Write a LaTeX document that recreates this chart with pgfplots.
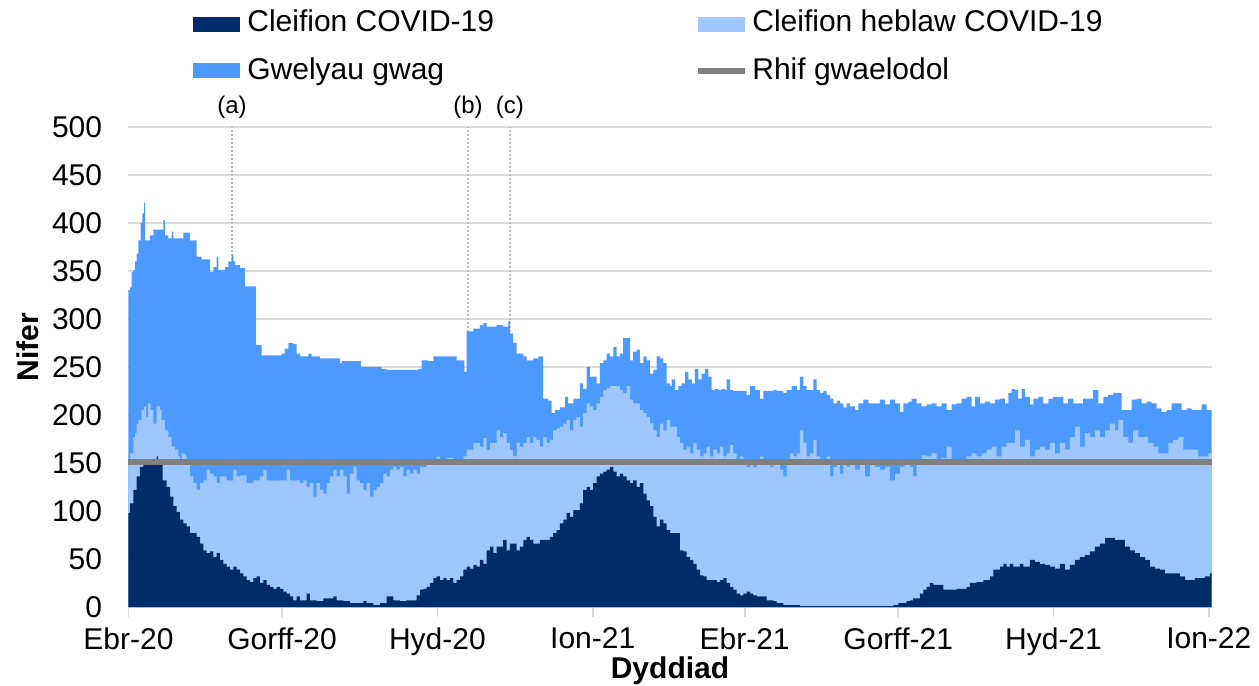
\documentclass[border=0pt]{standalone}
\usepackage{pgfplots}
\pgfplotsset{compat=1.18}
\usepackage{fontspec}
\setmainfont{Liberation Sans}
\definecolor{navyc}{RGB}{0,45,106}
\definecolor{midb}{RGB}{77,154,255}
\definecolor{lightb}{RGB}{158,198,255}
\definecolor{basegray}{RGB}{128,128,128}
\definecolor{gridgray}{RGB}{217,217,217}
\definecolor{dotgray}{RGB}{185,185,185}
\newcommand{\fs}{\fontsize{15bp}{18bp}\selectfont}
\begin{document}
\begin{tikzpicture}
\begin{axis}[
  at={(0,0)}, anchor=south west, scale only axis,
  width=541.5bp, height=240bp,
  xmin=0, xmax=641.6, ymin=0, ymax=500,
  clip=false,
  axis x line*=bottom, axis y line*=left,
  y axis line style={draw=none},
  x axis line style={draw=gridgray, line width=0.9bp},
  ytick={0,50,...,500},
  ymajorgrids, grid style={draw=gridgray, line width=0.75bp},
  ytick style={draw=none},
  xtick={0,91,183,275,365,456,548,640},
  xticklabels={Ebr-20,Gorff-20,Hyd-20,Ion-21,Ebr-21,Gorff-21,Hyd-21,Ion-22},
  xtick style={draw=gridgray, line width=0.9bp},
  tick align=outside, major tick length=5bp,
  /pgf/number format/assume math mode=true,
  tick label style={font=\fs, inner sep=0pt},
  yticklabel style={xshift=-8bp},
  xticklabel style={yshift=-5bp, anchor=north},
]
% event lines
\addplot[dotgray, line width=1bp, densely dotted] coordinates {(61.3,0) (61.3,500)};
\addplot[dotgray, line width=1bp, densely dotted] coordinates {(201.1,0) (201.1,500)};
\addplot[dotgray, line width=1bp, densely dotted] coordinates {(226,0) (226,500)};
% total (top of empty beds)
\addplot[const plot, fill=midb, draw=none] coordinates {
(0,330) (0.9,333) (1.9,349) (2.9,351) (3.9,360) (4.8,368) (5.8,382) (7.2,400) (8.2,410) (9.2,421) (9.8,382) (12.7,387) (14.7,393) (20.6,403) (21.6,387) (23.6,384) (25.6,391) (26.6,384) (32.5,390) (36.4,382) (40.4,365) (43.3,362) (48.3,349) (50.3,354) (52.2,365) (53.2,351) (57.2,354) (59.1,360) (61.1,367) (62.1,360) (63.1,356) (66.1,353) (69.0,334) (75.5,273) (78.9,262) (90.7,264) (92.7,269) (94.7,275) (97.6,274) (99.6,264) (101.6,261) (106.5,264) (108.5,261) (113.4,259) (125.3,254) (126.3,256) (137.7,250) (150,248) (152.9,247) (171.7,248) (173.7,257) (177.6,256) (180.6,261) (194.4,257) (199,245) (200.3,287) (204.3,290) (208.2,294) (210.2,296) (212.2,292) (214.1,292) (218.1,294) (222,292) (225,298) (226,285) (227.9,275) (229.9,264) (233.9,261) (235.8,257) (239.8,259) (242.8,261) (245.7,217) (248.7,215) (250.7,202) (252.6,205) (255.6,208) (258.6,219) (260.5,212) (263.5,217) (267.4,233) (269.4,227) (271.4,250) (273.4,240) (277.3,233) (279.3,254) (281.3,257) (283.2,264) (285.2,261) (287.2,271) (289.2,261) (291.1,264) (293.1,280) (295.1,280) (297.1,257) (299,266) (301,268) (303,254) (305,261) (306.9,257) (308.9,243) (310.9,247) (312.9,261) (314.8,259) (316.8,254) (318.8,233) (320.8,230) (321.8,237) (323.8,226) (325.8,230) (327.7,233) (329.7,245) (331.7,237) (333.7,233) (335.6,248) (337.6,237) (339.6,243) (341.6,248) (343.5,240) (345.5,226) (347.5,227) (349.5,226) (351.4,227) (353.4,226) (354.4,237) (356.4,226) (358.3,225) (366.2,221) (368.2,230) (371.2,226) (374.1,217) (376.1,225) (382,226) (384,225) (388,223) (389.9,226) (392.9,230) (395.9,226) (397.8,240) (399.8,230) (401.8,226) (405.7,237) (407.7,226) (409.7,223) (411.7,225) (413.6,221) (415.6,217) (417.6,212) (419.6,215) (421.5,212) (423.5,208) (425.5,212) (427.4,209) (430.4,205) (432.4,212) (435.3,216) (438.3,212) (445.2,216) (448.2,211) (451.1,216) (454.1,212) (457.1,203) (459,212) (462,214) (464,217) (466.9,212) (469.9,209) (472.8,211) (475.8,212) (478.8,209) (481.7,212) (484.7,205) (487.7,211) (490.6,212) (493.6,217) (496.5,219) (499.5,209) (501.5,219) (504.4,212) (507.4,214) (510.4,212) (513.3,216) (516.3,217) (519.2,212) (521.2,223) (523.2,227) (525.2,226) (527.1,217) (529.1,227) (531.1,219) (534,211) (536,217) (539,219) (541.9,212) (544.9,217) (547.8,219) (553.8,212) (556.7,217) (559.7,212) (565.6,217) (571.5,226) (574.5,212) (577.5,219) (580.4,221) (583.4,223) (588.3,205) (591.3,205) (594.3,216) (597.2,217) (600.2,212) (603.1,214) (606.1,212) (609.1,207) (612,203) (615,205) (617.9,212) (623.9,205) (626.8,207) (629.8,205) (635.7,211) (638.7,205) (641.6,205)
} \closedcycle;
% covid + non-covid
\addplot[const plot, fill=lightb, draw=none] coordinates {
(0,150) (0.9,160) (2.9,177) (3.9,181) (4.8,191) (5.8,195) (7.8,205) (9.2,209) (10.4,198) (11.7,212) (13.1,205) (14.7,191) (16.7,209) (18.7,205) (19.6,195) (21.6,184) (23.6,177) (25.6,167) (27.5,164) (29.5,157) (30.5,153) (31.5,160) (33.5,158) (34.5,153) (36.4,136) (38.4,129) (40.4,122) (42.4,129) (44.3,132) (46.3,143) (48.3,139) (50.3,136) (52.2,129) (54.2,136) (58.2,132) (62.1,143) (64.1,136) (66.1,137) (70,129) (74,132) (77.9,136) (79.9,143) (81.9,132) (93.7,143) (95.7,132) (99.6,132) (101.6,129) (103.6,132) (105.5,125) (107.5,129) (109.5,115) (111.5,129) (113.4,122) (115.4,118) (117.4,129) (119.4,136) (121.3,143) (123.3,136) (125.3,143) (127.3,136) (129.2,118) (131.2,139) (133.2,146) (135.2,132) (137.1,129) (139.1,122) (141.1,129) (143.1,115) (145,122) (147,125) (149,129) (151,139) (152.9,136) (154.9,143) (156.9,146) (158.9,143) (160.8,146) (162.8,136) (164.8,143) (166.8,139) (168.7,143) (170.7,139) (172.7,146) (176.6,148) (180.6,150) (182.6,157) (184.5,153) (188.5,155) (192.4,150) (196.4,150) (198.4,157) (200.3,164) (204.3,171) (208.2,167) (210.2,176) (212.2,164) (214.2,171) (216.1,171) (218.1,184) (220,177) (222,181) (224,171) (226,164) (227.9,157) (229.9,171) (231.9,167) (233.9,171) (235.8,177) (237.8,171) (239.8,177) (241.8,174) (243.7,167) (245.7,177) (247.7,171) (249.7,174) (251.6,184) (253.6,186) (255.6,188) (257.6,191) (259.5,195) (261.5,184) (263.5,195) (265.5,198) (267.4,188) (269.4,202) (271.4,212) (273.4,209) (275.3,205) (277.3,212) (279.3,219) (281.3,226) (283.2,228) (285.2,230) (289.2,230) (291.1,226) (293.1,223) (295.1,230) (297.1,216) (299,212) (301,212) (303,205) (305,202) (306.9,198) (308.9,191) (310.9,184) (312.9,177) (314.8,191) (316.8,184) (318.8,195) (320.8,188) (322.8,188) (324.8,177) (326.7,171) (328.7,164) (330.7,167) (332.7,160) (334.6,171) (336.6,164) (338.6,157) (340.6,160) (342.5,167) (344.5,157) (346.5,164) (348.5,160) (350.4,167) (352.4,157) (354.4,160) (356.4,169) (358.3,160) (360.3,153) (362.3,157) (364.3,150) (366.2,146) (368.2,150) (370.2,146) (372.2,150) (374.1,157) (376.1,153) (378.1,150) (380.1,146) (382,153) (384,150) (386,143) (388,136) (389.9,150) (391.9,160) (393.9,157) (395.9,160) (397.8,184) (399.8,171) (401.8,157) (403.8,160) (405.7,174) (407.7,157) (409.7,150) (411.7,153) (413.6,157) (415.6,136) (417.6,146) (419.6,150) (421.5,139) (423.5,150) (425.5,146) (427.4,150) (430.4,143) (433.3,153) (436.3,136) (439.3,153) (442.2,146) (445.2,143) (448.2,146) (451.1,132) (454.1,139) (457.1,146) (460,150) (463,146) (464.9,136) (466.9,150) (469.9,158) (472.8,157) (475.8,160) (478.8,153) (481.7,155) (484.7,167) (487.7,148) (490.6,153) (493.6,150) (496.5,157) (499.5,160) (502.5,157) (505.4,160) (508.4,164) (511.4,167) (514.3,157) (517.3,167) (520.2,171) (523.2,171) (525.2,184) (528.1,167) (531.1,174) (534,157) (537,164) (539.9,167) (542.9,164) (545.9,171) (548.8,160) (551.8,171) (554.8,164) (557.7,177) (560.7,188) (563.6,167) (566.6,181) (569.6,177) (572.5,184) (575.5,177) (578.5,184) (581.4,191) (584.4,184) (586.4,195) (589.3,177) (592.3,171) (595.2,184) (598.2,177) (601.2,177) (604.1,171) (607.1,167) (610.1,160) (613,160) (616,171) (618.9,174) (621.9,177) (624.9,164) (627.8,164) (630.8,164) (633.7,157) (636.7,157) (639.7,160) (641.6,157)
} \closedcycle;
% covid
\addplot[const plot, fill=navyc, draw=none] coordinates {
(0,98) (0.9,108) (2.9,122) (4.8,136) (6.8,146) (8.8,148) (10.8,148) (14.7,150) (16.7,157) (17.5,148) (20.2,132) (22.6,125) (24.6,115) (26.6,105) (28.5,99) (30.5,91) (32.5,87) (34.5,84) (36.4,77) (38.4,77) (40.4,73) (42.4,66) (44.3,59) (46.3,56) (48.3,58) (50.3,52) (52.2,56) (54.2,49) (56.2,45) (58.2,42) (60.1,39) (62.1,42) (64.1,39) (66.1,35) (68,32) (70,28) (72,26) (74,30) (75.9,32) (77.9,25) (79.9,28) (81.9,23) (83.8,21) (85.8,19) (87.8,21) (89.8,19) (91.7,16) (93.7,14) (95.7,11) (97.6,7) (99.6,11) (101.6,7) (105.5,14) (107.5,7) (111.5,6) (115.4,9) (121.3,11) (123.3,7) (127.3,6) (131.2,4) (139.1,6) (141.1,4) (145,2) (149,4) (152.9,11) (156.9,7) (160.8,6) (164.8,7) (170.7,12) (172.7,18) (174.7,19) (176.6,21) (178.6,25) (180.6,30) (182.6,32) (184.5,28) (186.5,30) (188.5,28) (190.5,30) (192.4,25) (194.4,28) (196.4,32) (198.4,39) (200.3,42) (202.3,40) (204.3,44) (206.3,42) (208.2,49) (210.2,45) (212.2,59) (214.2,63) (216.1,56) (218.1,63) (222,70) (224,59) (226,66) (229.9,59) (231.9,63) (233.9,70) (235.8,73) (237.8,70) (239.8,66) (243.7,70) (249.7,73) (251.6,77) (253.6,80) (255.6,87) (257.6,91) (259.5,98) (261.5,94) (263.5,101) (267.4,108) (269.4,122) (271.4,125) (273.4,122) (275.3,129) (277.3,136) (279.3,139) (281.3,141) (283.2,143) (285.2,146) (287.2,141) (289.2,136) (291.1,139) (293.1,136) (295.1,132) (297.1,129) (299,132) (301,125) (303,129) (305,118) (306.9,111) (308.9,105) (310.9,94) (312.9,84) (314.8,91) (316.8,87) (318.8,80) (320.8,77) (324.8,77) (326.7,59) (328.7,58) (330.7,52) (332.7,49) (334.6,45) (336.6,39) (338.6,33) (340.6,32) (342.5,28) (348.5,26) (350.4,28) (352.4,30) (354.4,25) (356.4,21) (358.3,18) (360.3,14) (362.3,12) (364.3,14) (366.2,16) (368.2,14) (370.2,12) (372.2,11) (376.1,11) (378.1,7) (382,6) (384,4) (388,2) (397.8,1) (452,1) (453.1,2) (456.1,4) (461,6) (463,7) (464.9,9) (468.9,14) (470.9,18) (472.8,21) (474.8,25) (476.8,23) (482.7,18) (490.6,19) (496.5,21) (498.5,25) (502.5,26) (506.4,28) (510.4,32) (512.3,39) (516.3,42) (518.3,45) (520.2,42) (522.2,45) (524.2,42) (528.1,45) (530.1,42) (534,49) (537,47) (539.9,45) (542.9,44) (545.9,42) (548.8,40) (551.8,45) (554.8,39) (557.7,44) (560.7,49) (563.6,52) (566.6,54) (569.6,58) (572.5,63) (575.5,66) (578.5,72) (581.4,72) (584.4,70) (587.3,70) (590.3,63) (593.3,59) (596.2,56) (599.2,52) (602.2,49) (605.1,42) (608.1,40) (611,39) (614,35) (619.9,35) (622.9,32) (625.9,28) (631.8,30) (634.7,30) (637.7,32) (640.7,35) (641.6,35)
} \closedcycle;
% baseline
\addplot[basegray, line width=3bp] coordinates {(0,151) (641.6,151)};
\node[font=\fontsize{12bp}{14bp}\selectfont, inner sep=0pt] at (axis cs:61.3,500) [yshift=10bp] {(a)};
\node[font=\fontsize{12bp}{14bp}\selectfont, inner sep=0pt] at (axis cs:201.1,500) [yshift=10bp] {(b)};
\node[font=\fontsize{12bp}{14bp}\selectfont, inner sep=0pt] at (axis cs:226,500) [yshift=10bp] {(c)};
\end{axis}
% legend
\fill[navyc] (32.25bp,287.5bp) rectangle (55.75bp,295bp);
\node[font=\fs, anchor=base west, inner sep=0pt] at (59.25bp,287.5bp) {Cleifion COVID-19};
\fill[midb] (32.25bp,264.5bp) rectangle (55.75bp,272bp);
\node[font=\fs, anchor=base west, inner sep=0pt] at (59.25bp,263.5bp) {Gwelyau gwag};
\fill[lightb] (284.75bp,287.5bp) rectangle (308.25bp,295bp);
\node[font=\fs, anchor=base west, inner sep=0pt] at (311.75bp,287.5bp) {Cleifion heblaw COVID-19};
\draw[basegray, line width=3bp] (284.75bp,268bp) -- (308.25bp,268bp);
\node[font=\fs, anchor=base west, inner sep=0pt] at (311.75bp,263.5bp) {Rhif gwaelodol};
% axis titles
\node[font=\fs\bfseries, anchor=base, inner sep=0pt] at (270.75bp,-35.5bp) {Dyddiad};
\node[font=\fs\bfseries, rotate=90, inner sep=0pt] at (-50.25bp,130bp) {Nifer};
\pgfresetboundingbox
\useasboundingbox (-64.25bp,-39.5bp) rectangle (565.25bp,303.5bp);
\end{tikzpicture}
\end{document}
